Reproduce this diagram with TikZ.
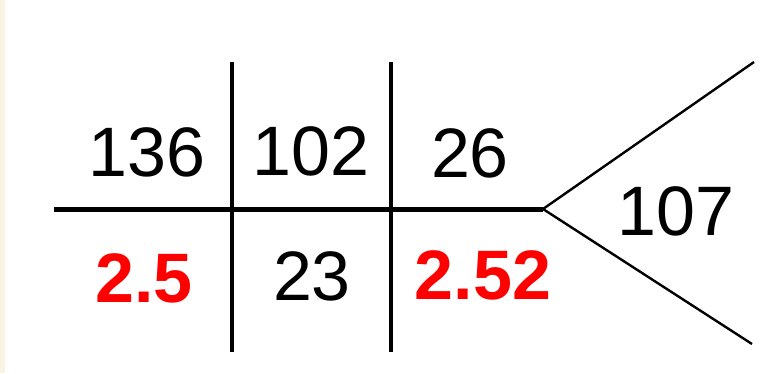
\documentclass[tikz,border=0pt]{standalone}
\usepackage{fontspec}
\setmainfont{Liberation Sans}
\usetikzlibrary{positioning}

\definecolor{edgebeige}{RGB}{250,243,228}

\tikzset{
  num/.style={anchor=base,inner sep=0pt,font=\fontsize{70}{84}\selectfont},
  rednum/.style={num,text=red,font=\fontsize{70}{84}\selectfont\bfseries},
  bar/.style={line width=3.4pt},
  mainbar/.style={line width=5pt},
  branch/.style={line width=2.4pt}
}

\begin{document}
\begin{tikzpicture}[x=1pt,y=-1pt]
    % Set bounding box
    \useasboundingbox (0,0) rectangle (774,373);
    \fill[edgebeige] (0,0) rectangle (5,373);

    % Line ends
    \coordinate (hl) at (54,209);
    \coordinate (tip) at (543,209);
    \coordinate (vat) at (232,62);
    \coordinate (vab) at (232,352);
    \coordinate (vbt) at (391,62);
    \coordinate (vbb) at (391,352);
    \coordinate (up) at (754,62);
    \coordinate (down) at (752,344);

    % Draw the bars
    \draw[mainbar] (hl) -- (tip);
    \draw[bar] (vat) -- (vab);
    \draw[bar] (vbt) -- (vbb);
    \draw[branch] (tip) -- (up);
    \draw[branch] (tip) -- (down);

    % Numbers
    \node[num] (n136) at (147,176) {136};
    \node[num] (n102) at (311,175) {102};
    \node[num] (n26) at (470,177) {26};
    \node[num] (n107) at (676,235) {107};
    \node[rednum] (r25) at (144,302) {2.5};
    \node[num] (n23) at (312,300) {23};
    \node[rednum] (r252) at (483,299) {2.52};

\end{tikzpicture}
\end{document}
